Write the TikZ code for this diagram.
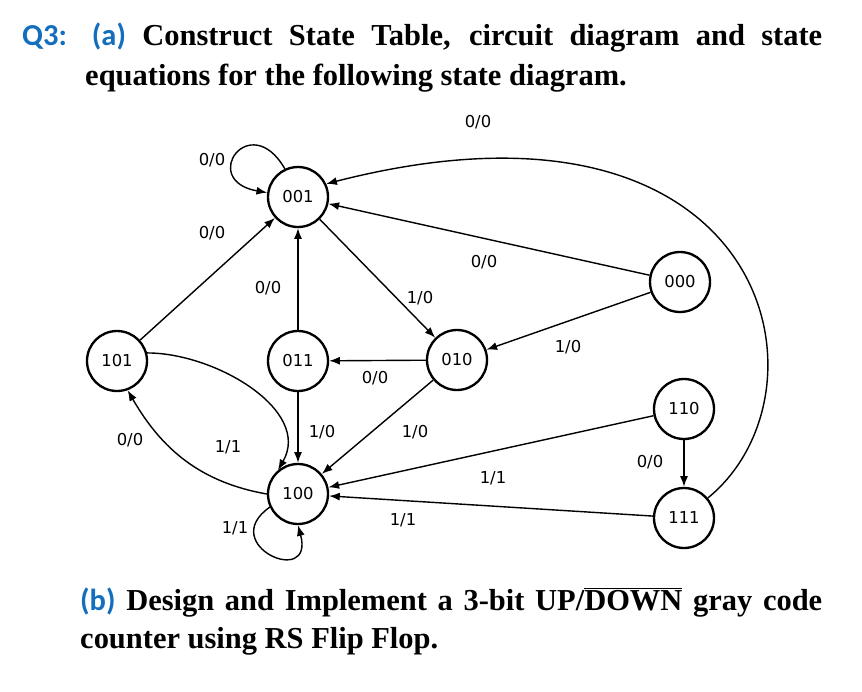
\documentclass[tikz,border=0pt]{standalone}
\usepackage{fontspec}
\setmainfont{Liberation Serif}
\newfontfamily\qsans{Carlito}
\newfontfamily\lsans{DejaVu Sans}
\usetikzlibrary{arrows.meta}
\definecolor{qblue}{RGB}{20,110,190}
\begin{document}
\begin{tikzpicture}[x=0.03cm,y=-0.03cm,
  st/.style={circle,draw,line width=2pt,minimum size=1.8cm,inner sep=0pt,font=\lsans\fontsize{14}{16}\selectfont},
  ed/.style={line width=1.2pt,-{Latex[length=3.2mm,width=2.4mm]}},
  lb/.style={font=\lsans\fontsize{14}{16}\selectfont},
  tx/.style={anchor=base west,inner sep=0pt,font=\bfseries\fontsize{26}{30}\selectfont}]
\useasboundingbox (0,0) rectangle (862,691);
\node[tx] (t1) at (22,45) {\makebox[24cm][s]{{\qsans\color{qblue}Q3: (a)} Construct State Table, circuit diagram and state}};
\node[tx] (t1b) at (85,85) {equations for the following state diagram.};
\node[tx] (t2) at (80,610) {\makebox[22.26cm][s]{{\qsans\color{qblue}(b)} Design and Implement a 3-bit UP/$\overline{\mbox{\bfseries DOWN}}$ gray code}};
\node[tx] (t2b) at (80,648) {counter using RS Flip Flop.};
\node[st] (s001) at (298,197) {001};
\node[st] (s000) at (680,282) {000};
\node[st] (s101) at (117,361) {101};
\node[st] (s011) at (298,361) {011};
\node[st] (s010) at (457,360) {010};
\node[st] (s110) at (684,409) {110};
\node[st] (s100) at (298,494) {100};
\node[st] (s111) at (684,518) {111};
\draw[ed] (s001.115) to[out=120,in=170,looseness=6] (s001.172);
\draw[ed] (s101) -- (s001);
\draw[ed] (s011) -- (s001);
\draw[ed] (s001) -- (s010);
\draw[ed] (s000) -- (s001);
\draw[ed] (s000) -- (s010);
\draw[ed] (s010) -- (s011);
\draw[ed] (s011) -- (s100);
\draw[ed] (s010) -- (s100);
\draw[ed] (s101.15) to[out=0,in=60] (s100.130);
\draw[ed] (s100.180) to[out=170,in=-60] (s101.-70);
\draw[ed] (s110) -- (s100);
\draw[ed] (s111) -- (s100);
\draw[ed] (s110) -- (s111);
\draw[ed] (s111.40) .. controls (840,390) and (770,70) .. (s001.25);
\draw[ed] (s100.205) to[out=215,in=285,looseness=5] (s100.270);
\node[lb] (l1) at (212,160) {0/0};
\node[lb] (l2) at (212,233) {0/0};
\node[lb] (l3) at (268,288) {0/0};
\node[lb] (l4) at (420,298) {1/0};
\node[lb] (l5) at (484,262) {0/0};
\node[lb] (l6) at (568,347) {1/0};
\node[lb] (l7) at (375,378) {0/0};
\node[lb] (l8) at (322,432) {1/0};
\node[lb] (l9) at (415,432) {1/0};
\node[lb] (l10) at (228,447) {1/1};
\node[lb] (l11) at (130,440) {0/0};
\node[lb] (l12) at (493,478) {1/1};
\node[lb] (l13) at (403,520) {1/1};
\node[lb] (l14) at (650,462) {0/0};
\node[lb] (l15) at (478,122) {0/0};
\node[lb] (l16) at (235,528) {1/1};
\end{tikzpicture}
\end{document}
